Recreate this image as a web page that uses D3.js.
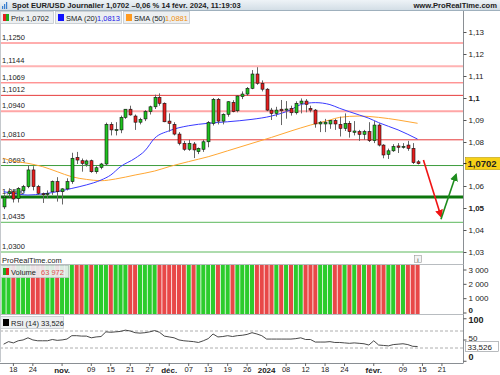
<!DOCTYPE html>
<head>
<meta charset="utf-8">
<style>
body { margin: 0; background: #fff; }
text { font-family: "Liberation Sans", Arial, sans-serif; fill: #222; }
</style>
</head>
<body>
<script src="https://cdn.jsdelivr.net/npm/d3@7/dist/d3.min.js"></script>
<script>

// trading days (no candle on Dec 25 / Jan 1), then empty days to the right edge
var dates = [
  "2023-10-16","2023-10-17","2023-10-18","2023-10-19","2023-10-20","2023-10-23","2023-10-24","2023-10-25","2023-10-26","2023-10-27","2023-10-30","2023-10-31",
  "2023-11-01","2023-11-02","2023-11-03","2023-11-06","2023-11-07","2023-11-08","2023-11-09","2023-11-10","2023-11-13","2023-11-14","2023-11-15","2023-11-16","2023-11-17",
  "2023-11-20","2023-11-21","2023-11-22","2023-11-23","2023-11-24","2023-11-27","2023-11-28","2023-11-29","2023-11-30",
  "2023-12-01","2023-12-04","2023-12-05","2023-12-06","2023-12-07","2023-12-08","2023-12-11","2023-12-12","2023-12-13","2023-12-14","2023-12-15",
  "2023-12-18","2023-12-19","2023-12-20","2023-12-21","2023-12-22","2023-12-26","2023-12-27","2023-12-28","2023-12-29",
  "2024-01-02","2024-01-03","2024-01-04","2024-01-05","2024-01-08","2024-01-09","2024-01-10","2024-01-11","2024-01-12","2024-01-15","2024-01-16",
  "2024-01-17","2024-01-18","2024-01-19","2024-01-22","2024-01-23","2024-01-24","2024-01-25","2024-01-26","2024-01-29","2024-01-30","2024-01-31",
  "2024-02-01","2024-02-02","2024-02-05","2024-02-06","2024-02-07","2024-02-08","2024-02-09","2024-02-12","2024-02-13","2024-02-14",
  "2024-02-15","2024-02-16","2024-02-19","2024-02-20","2024-02-21","2024-02-22","2024-02-23","2024-02-26","2024-02-27"
];

// daily candles (one per trading day above)
var open = [1.0505,1.0566,1.0574,1.0544,1.0579,1.0597,1.0673,1.0597,1.0565,1.0563,1.0574,1.0620,
  1.0574,1.0587,1.0620,1.0730,1.0715,1.0699,1.0715,1.0665,1.0685,1.0700,1.0880,1.0852,1.0855,
  1.0912,1.0949,1.0918,1.0890,1.0905,1.0938,1.0960,1.1003,1.0976,
  1.0895,1.0880,1.0836,1.0794,1.0767,1.0791,1.0756,1.0767,1.0801,1.0885,1.0994,
  1.0895,1.0926,1.0980,1.0942,1.1006,1.1018,1.1044,1.1109,1.1067,
  1.1040,1.0945,1.0930,1.0949,1.0945,1.0953,1.0933,1.0976,1.0986,1.0953,1.0945,
  1.0882,1.0882,1.0882,1.0897,1.0880,1.0862,1.0885,1.0844,1.0847,1.0835,1.0847,
  1.0806,1.0877,1.0786,1.0744,1.0760,1.0782,1.0776,1.0786,1.0771,1.0710];
var high = [1.0562,1.0590,1.0580,1.0595,1.0605,1.0695,1.0690,1.0605,1.0570,1.0580,1.0625,1.0640,
  1.0590,1.0635,1.0751,1.0755,1.0725,1.0720,1.0720,1.0690,1.0705,1.0888,1.0890,1.0890,1.0920,
  1.0950,1.0965,1.0925,1.0910,1.0945,1.0965,1.1015,1.1021,1.0980,
  1.0930,1.0890,1.0845,1.0805,1.0810,1.0800,1.0775,1.0810,1.0895,1.1000,1.1000,
  1.0930,1.0985,1.0990,1.1012,1.1030,1.1050,1.1127,1.1140,1.1080,
  1.1045,1.0955,1.0960,1.0991,1.0986,1.0965,1.0985,1.0998,1.0995,1.0965,1.0950,
  1.0895,1.0905,1.0900,1.0905,1.0915,1.0930,1.0895,1.0895,1.0855,1.0855,1.0890,
  1.0895,1.0885,1.0790,1.0770,1.0790,1.0795,1.0795,1.0805,1.0795,1.0718];
var low = [1.0495,1.0549,1.0525,1.0525,1.0570,1.0590,1.0580,1.0560,1.0523,1.0545,1.0560,1.0529,
  1.0516,1.0580,1.0610,1.0700,1.0665,1.0688,1.0660,1.0656,1.0676,1.0695,1.0830,1.0830,1.0840,
  1.0905,1.0920,1.0855,1.0880,1.0895,1.0925,1.0950,1.0965,1.0890,
  1.0847,1.0830,1.0785,1.0760,1.0760,1.0727,1.0745,1.0755,1.0776,1.0875,1.0880,
  1.0880,1.0915,1.0935,1.0935,1.0995,1.1010,1.1040,1.1060,1.1030,
  1.0940,1.0900,1.0915,1.0877,1.0906,1.0920,1.0925,1.0930,1.0935,1.0935,1.0865,
  1.0845,1.0845,1.0860,1.0855,1.0825,1.0850,1.0820,1.0830,1.0805,1.0810,1.0800,
  1.0795,1.0780,1.0726,1.0723,1.0755,1.0750,1.0770,1.0760,1.0700,1.0698];
var close = [1.0549,1.0574,1.0541,1.0589,1.0597,1.0673,1.0597,1.0567,1.0563,1.0566,1.0620,1.0574,
  1.0587,1.0620,1.0726,1.0718,1.0703,1.0714,1.0665,1.0683,1.0700,1.0880,1.0855,1.0856,1.0912,
  1.0949,1.0923,1.0890,1.0903,1.0938,1.0960,1.1003,1.0976,1.0892,
  1.0885,1.0836,1.0794,1.0767,1.0794,1.0764,1.0771,1.0801,1.0888,1.0994,1.0895,
  1.0926,1.0983,1.0938,1.1009,1.1018,1.1044,1.1109,1.1067,1.1040,
  1.0945,1.0930,1.0945,1.0942,1.0950,1.0933,1.0976,1.0986,1.0971,1.0945,1.0882,
  1.0890,1.0890,1.0897,1.0882,1.0862,1.0885,1.0847,1.0850,1.0835,1.0847,1.0806,
  1.0877,1.0786,1.0741,1.0760,1.0779,1.0776,1.0780,1.0771,1.0706,1.0702];

// volume: every bar runs past the top of its panel (last value from legend)
var volume = [3500,3500,3500,3500,3500,3500,3500,3500,3500,3500,3500,3500,
  3500,3500,3500,3500,3500,3500,3500,3500,3500,3500,3500,3500,3500,
  3500,3500,3500,3500,3500,3500,3500,3500,3500,
  3500,3500,3500,3500,3500,3500,3500,3500,3500,3500,3500,
  3500,3500,3500,3500,3500,3500,3500,3500,3500,
  3500,3500,3500,3500,3500,3500,3500,3500,3500,3500,3500,
  3500,3500,3500,3500,3500,3500,3500,3500,3500,3500,3500,
  3500,3500,3500,3500,3500,3500,3500,3500,3500,63972];

// moving averages (candle index, value)
var sma20Idx = [0,2,5,8,10,12,14,17,20,22,24,27,29,31,34,38,42,46,51,55,59,61,64,67,69,73,75,77,81,85];
var sma20 = [1.0574,1.0567,1.0559,1.0564,1.0570,1.0579,1.0589,1.0605,1.0627,1.0650,1.0688,1.0726,1.0760,1.0817,1.0851,
  1.0874,1.0885,1.0892,1.0903,1.0918,1.0947,1.0970,1.0979,1.0970,1.0953,1.0923,1.0908,1.0888,1.0855,1.0813];
var sma50Idx = [0,1,5,8,11,14,17,20,23,27,31,34,38,42,46,51,55,59,63,67,69,73,77,81,85];
var sma50 = [1.0726,1.0718,1.0703,1.0688,1.0665,1.0642,1.0630,1.0624,1.0632,1.0650,1.0668,1.0688,1.0711,1.0733,1.0760,
  1.0794,1.0821,1.0850,1.0877,1.0900,1.0912,1.0918,1.0912,1.0900,1.0885];

// RSI(14), one value per candle
var rsi = [39,45,42,47,49,54,49,47,47,47,50,48,49,51,59,59,58,58,54,56,57,68,67,68,69,72,70,66,65,66,68,71,67,58,56,54,
  49,47,46,45,43,47,52,63,56,57,59,57,59,60,62,66,63,59,51,51,51,51,51,51,52,54,50,50,44,44,44,45,43,43,42,41,42,41,40,37,
  47,37,36,35,38,39,40,38,34,33.526];

// horizontal levels drawn on the chart
var levels = [1.1250, 1.1144, 1.1069, 1.1012, 1.0940, 1.0810, 1.0693, 1.0550, 1.0435, 1.0300];
var levelStroke = ["#ff5c5c","#ffb3b3","#ff6464","#e63a3a","#ffa6a6","#e63a3a","#3d9c3d","#0c760c","#5cb85c","#5cb85c"];
var levelWidth = [1, 2, 1, 1, 2, 1, 1, 3, 1, 1];

// projection arrows (candle index, price)
var arrowFrom = [[86.2, 1.0718], [89.8, 1.0449]];
var arrowTo = [[89.8, 1.0462], [92.9, 1.0652]];
var arrowColor = ["#f01414", "#1e8c1e"];

// 1,07 is hidden behind the last-price tag
var priceTicks = [1.03,1.04,1.05,1.06,1.08,1.09,1.10,1.11,1.12,1.13];
var volTicks = [0, 1000, 2000, 3000];
var rsiTicks = [0, 50, 100];
var tickDates = ["2023-10-18","2023-10-24","2023-11-01","2023-11-09","2023-11-15","2023-11-21","2023-11-27","2023-12-01","2023-12-07",
  "2023-12-13","2023-12-19","2023-12-26","2024-01-02","2024-01-08","2024-01-12","2024-01-18","2024-01-24","2024-02-01","2024-02-09","2024-02-15","2024-02-21"];
var tickLabels = ["18","24","nov.","09","15","21","27","déc.","07","13","19","26","2024","08","12","18","24","févr.","09","15","21"];
var boldLabels = ["nov.","déc.","2024","févr."];

var loc = d3.formatLocale({decimal: ",", thousands: " ", grouping: [3], currency: ["", ""]});
var f4 = loc.format(".4f"), f3 = loc.format(".3f"), fr = loc.format(".3~r"), fint = loc.format(",d");

var plotRight = 463.5;
var nCandles = close.length;

var svg = d3.select("body").append("svg")
    .attr("width", 500).attr("height", 375)
    .style("display", "block").style("background", "#fff");

var defs = svg.append("defs");
var hg = defs.append("linearGradient").attr("id", "hdr").attr("x1", 0).attr("y1", 0).attr("x2", 0).attr("y2", 1);
hg.append("stop").attr("offset", 0).attr("stop-color", "#eef3f7");
hg.append("stop").attr("offset", 1).attr("stop-color", "#d3dee6");
defs.append("clipPath").attr("id", "clipPrice").append("rect").attr("x", 0).attr("y", 10).attr("width", plotRight).attr("height", 248);
defs.append("clipPath").attr("id", "clipVol").append("rect").attr("x", 0).attr("y", 265).attr("width", plotRight).attr("height", 49);
arrowColor.forEach(function(c, i) {
  defs.append("marker").attr("id", "ah" + i)
      .attr("viewBox", "0 0 10 10").attr("refX", 8).attr("refY", 5)
      .attr("markerWidth", 5).attr("markerHeight", 5).attr("orient", "auto")
    .append("path").attr("d", "M0,0L10,5L0,10Z").attr("fill", c);
});

// scales
var x = d3.scaleBand().domain(dates).range([1.2, 1.2 + dates.length * 4.87]);
var xc = function(i) { return x(dates[i]) + x.bandwidth() / 2; };
var xi = d3.scaleLinear().domain([0, dates.length - 1]).range([xc(0), xc(dates.length - 1)]);
var y = d3.scaleLinear().domain([1.03, 1.13]).range([252, 32]);
var yv = d3.scaleLinear().domain([0, 3000]).range([312.5, 269.5]);
var yr = d3.scaleLinear().domain([0, 100]).range([360.75, 318.25]);

// ---- price panel ----
var price = svg.append("g").attr("clip-path", "url(#clipPrice)");

levels.forEach(function(v, i) {
  price.append("line").attr("x1", 0).attr("x2", plotRight)
      .attr("y1", y(v)).attr("y2", y(v))
      .attr("stroke", levelStroke[i]).attr("stroke-width", levelWidth[i]);
  price.append("text").attr("x", 2).attr("y", y(v) - 3)
      .attr("font-size", 7.5).text(f4(v));
});

var lineOf = function(idx, vals) {
  return d3.line().x(function(d, k) { return xi(idx[k]); })
      .y(function(d) { return y(d); }).curve(d3.curveMonotoneX)(vals);
};
price.append("path").attr("d", lineOf(sma50Idx, sma50)).attr("fill", "none").attr("stroke", "#ffa733").attr("stroke-width", 1);
price.append("path").attr("d", lineOf(sma20Idx, sma20)).attr("fill", "none").attr("stroke", "#3a3aff").attr("stroke-width", 1);

var candles = price.selectAll("g.c").data(d3.range(nCandles)).enter().append("g");
candles.append("line")
    .attr("x1", function(i) { return Math.round(xc(i)) + 0.5; })
    .attr("x2", function(i) { return Math.round(xc(i)) + 0.5; })
    .attr("y1", function(i) { return y(high[i]); })
    .attr("y2", function(i) { return y(low[i]); })
    .attr("stroke", "#666").attr("stroke-width", 1);
candles.append("rect")
    .attr("x", function(i) { return Math.round(xc(i)) - 1; })
    .attr("width", 3)
    .attr("y", function(i) { return y(Math.max(open[i], close[i])); })
    .attr("height", function(i) { return Math.max(1, Math.abs(y(open[i]) - y(close[i]))); })
    .attr("fill", function(i) { return close[i] >= open[i] ? "#1fc21f" : "#e61e1e"; })
    .attr("stroke", "#111").attr("stroke-width", 0.6);

arrowFrom.forEach(function(a, i) {
  price.append("line")
      .attr("x1", xi(a[0])).attr("y1", y(a[1]))
      .attr("x2", xi(arrowTo[i][0])).attr("y2", y(arrowTo[i][1]))
      .attr("stroke", arrowColor[i]).attr("stroke-width", 1.6)
      .attr("marker-end", "url(#ah" + i + ")");
});

// ---- volume panel ----
var vol = svg.append("g").attr("clip-path", "url(#clipVol)");
vol.selectAll("rect").data(d3.range(nCandles)).enter().append("rect")
    .attr("x", function(i) { return x(dates[i]) + 0.4; })
    .attr("width", x.bandwidth() - 0.8)
    .attr("y", function(i) { return yv(volume[i]); })
    .attr("height", function(i) { return yv(0) + 2 - yv(volume[i]); })
    .attr("fill", function(i) { return close[i] >= open[i] ? "#2ccc2c" : "#e84848"; });

// ---- RSI panel ----
[70, 30].forEach(function(v) {
  svg.append("line").attr("x1", 0).attr("x2", plotRight).attr("y1", yr(v)).attr("y2", yr(v))
      .attr("stroke", "#9a9a9a").attr("stroke-width", 0.8).attr("stroke-dasharray", "3,2");
});
svg.append("path")
    .attr("d", d3.line().x(function(d, i) { return xc(i); }).y(function(d) { return yr(d); })(rsi))
    .attr("fill", "none").attr("stroke", "#333").attr("stroke-width", 0.9);

// ---- frames ----
svg.append("line").attr("x1", 0.5).attr("x2", 0.5).attr("y1", 10).attr("y2", 362).attr("stroke", "#c4c8cc");
svg.append("line").attr("x1", plotRight).attr("x2", plotRight).attr("y1", 10).attr("y2", 363).attr("stroke", "#8a8f94");
[264.5, 314.5].forEach(function(v) {
  svg.append("line").attr("x1", 0).attr("x2", plotRight).attr("y1", v).attr("y2", v).attr("stroke", "#b8bcc0");
});

// ---- right axes ----
function styleAxis(g) {
  g.select(".domain").remove();
  g.selectAll(".tick line").attr("stroke", "#555");
  g.selectAll(".tick text").attr("font-size", 8).attr("fill", "#222").attr("x", 5);
}
svg.append("g").attr("transform", "translate(" + plotRight + ",0)")
    .call(d3.axisRight(y).tickValues(priceTicks).tickSize(3).tickFormat(fr))
    .call(styleAxis)
    .selectAll(".tick text").attr("font-weight", function(d) { return (d === 1.10 || d === 1.05) ? "bold" : null; });
svg.append("g").attr("transform", "translate(" + plotRight + ",0)")
    .call(d3.axisRight(yv).tickValues(volTicks).tickSize(3).tickFormat(fint))
    .call(styleAxis)
    .selectAll(".tick text").attr("font-weight", function(d) { return d === 0 ? "bold" : null; })
    .attr("dy", function(d) { return d === 0 ? "0" : "0.32em"; });
svg.append("g").attr("transform", "translate(" + plotRight + ",0)")
    .call(d3.axisRight(yr).tickValues(rsiTicks).tickSize(3).tickFormat(fint))
    .call(styleAxis)
    .selectAll(".tick text").attr("font-weight", function(d) { return d === 50 ? null : "bold"; })
    .attr("font-size", function(d) { return d === 50 ? 8 : 9; })
    .attr("dy", function(d) { return d === 0 ? "-0.1em" : (d === 100 ? "0.5em" : "0.1em"); });

// current price marker
var lastY = y(close[nCandles - 1]);
svg.append("rect").attr("x", plotRight + 2).attr("y", lastY - 6).attr("width", 35).attr("height", 12)
    .attr("fill", "#f7d117").attr("stroke", "#b99a00").attr("stroke-width", 0.6);
svg.append("line").attr("x1", plotRight).attr("x2", plotRight + 3).attr("y1", lastY).attr("y2", lastY).attr("stroke", "#222");
svg.append("text").attr("x", plotRight + 4).attr("y", lastY + 3.5).attr("font-size", 9.5).attr("font-weight", "bold")
    .text(f4(close[nCandles - 1]));

// current RSI marker
var rsiY = yr(rsi[nCandles - 1]);
svg.append("rect").attr("x", plotRight + 2).attr("y", rsiY - 5).attr("width", 33).attr("height", 10)
    .attr("fill", "#fff").attr("stroke", "#8a8f94").attr("stroke-width", 0.6);
svg.append("text").attr("x", plotRight + 4).attr("y", rsiY + 3).attr("font-size", 8)
    .text(f3(rsi[nCandles - 1]));

// ---- bottom date axis ----
var xAxis = svg.append("g").attr("transform", "translate(0,363)")
    .call(d3.axisBottom(x).tickValues(tickDates).tickSize(3).tickFormat(function(d, i) { return tickLabels[i]; }));
xAxis.select(".domain").attr("d", "M0,0.5H" + plotRight).attr("stroke", "#8a8f94");
xAxis.selectAll(".tick line").attr("stroke", "#666");
xAxis.selectAll(".tick text").attr("font-size", 7.5).attr("fill", "#222").attr("y", 4)
    .attr("font-weight", function(d, i) { return boldLabels.indexOf(tickLabels[i]) >= 0 ? "bold" : null; })
    .attr("font-size", function(d, i) { return boldLabels.indexOf(tickLabels[i]) >= 0 ? 8 : 7.5; });

// ---- header ----
svg.append("rect").attr("x", 0).attr("y", 0).attr("width", 500).attr("height", 10).attr("fill", "url(#hdr)");
svg.append("line").attr("x1", 0).attr("x2", 500).attr("y1", 10.5).attr("y2", 10.5).attr("stroke", "#9fb0bd");
[0, 1, 2].forEach(function(k) {
  svg.append("rect").attr("x", 2 + k * 2).attr("y", 6 - k * 2).attr("width", 1.2).attr("height", 3 + k * 2).attr("fill", "#3a7fd0");
});
svg.append("text").attr("x", 12).attr("y", 7.8).attr("font-size", 7.6).attr("font-weight", "bold")
    .text("Spot EUR/USD Journalier 1,0702 \u20130,06 % 14 févr. 2024, 11:19:03");
svg.append("text").attr("x", 497).attr("y", 7.8).attr("font-size", 7.6).attr("font-weight", "bold")
    .attr("text-anchor", "end").text("www.ProRealTime.com");

// legend boxes
function legendBox(x0, w, y0) {
  svg.append("rect").attr("x", x0 + 0.5).attr("y", y0 + 0.5).attr("width", w).attr("height", 12)
      .attr("fill", "#eceff1").attr("stroke", "#c3c8cc").attr("stroke-width", 0.8);
}
legendBox(0, 53, 11);
legendBox(55, 66, 11);
legendBox(123, 66, 11);
svg.append("rect").attr("x", 3).attr("y", 14).attr("width", 3).attr("height", 7).attr("fill", "#e61e1e");
svg.append("rect").attr("x", 6).attr("y", 14).attr("width", 3).attr("height", 7).attr("fill", "#1fa81f");
svg.append("text").attr("x", 11).attr("y", 20.5).attr("font-size", 7.5).text("Prix 1,0702");
svg.append("rect").attr("x", 58).attr("y", 14).attr("width", 6).attr("height", 7).attr("fill", "#1010ff");
svg.append("text").attr("x", 66).attr("y", 20.5).attr("font-size", 7.5).text("SMA (20)");
svg.append("text").attr("x", 97).attr("y", 20.5).attr("font-size", 7.5).style("fill", "#2020e8").text(f4(sma20[sma20.length - 1]));
svg.append("rect").attr("x", 126).attr("y", 14).attr("width", 6).attr("height", 7).attr("fill", "#ff9a1f");
svg.append("text").attr("x", 134).attr("y", 20.5).attr("font-size", 7.5).text("SMA (50)");
svg.append("text").attr("x", 165).attr("y", 20.5).attr("font-size", 7.5).style("fill", "#f09010").text("1,0881");

// volume header
svg.append("text").attr("x", 2).attr("y", 263).attr("font-size", 7.5).attr("fill", "#333").text("ProRealTime.com");
svg.append("rect").attr("x", 414.5).attr("y", 255.5).attr("width", 7).attr("height", 7).attr("fill", "#f4f4f4").attr("stroke", "#999").attr("stroke-width", 0.6);
svg.append("text").attr("x", 418).attr("y", 261.5).attr("font-size", 6).attr("text-anchor", "middle").text("i");
svg.append("rect").attr("x", 0.5).attr("y", 265.5).attr("width", 68).attr("height", 12)
    .attr("fill", "#eceff1").attr("fill-opacity", 0.92).attr("stroke", "#c3c8cc").attr("stroke-width", 0.8);
svg.append("rect").attr("x", 3).attr("y", 268).attr("width", 3).attr("height", 7).attr("fill", "#1fa81f");
svg.append("rect").attr("x", 6).attr("y", 268).attr("width", 3).attr("height", 7).attr("fill", "#e61e1e");
svg.append("text").attr("x", 11).attr("y", 274.5).attr("font-size", 7.5).text("Volume");
svg.append("text").attr("x", 41).attr("y", 274.5).attr("font-size", 7.5).style("fill", "#e05050").text(fint(volume[nCandles - 1]));

// RSI header
svg.append("rect").attr("x", 0.5).attr("y", 316.5).attr("width", 63).attr("height", 12)
    .attr("fill", "#eceff1").attr("stroke", "#c3c8cc").attr("stroke-width", 0.8);
svg.append("rect").attr("x", 3).attr("y", 319).attr("width", 6).attr("height", 7).attr("fill", "#000");
svg.append("text").attr("x", 11).attr("y", 325.5).attr("font-size", 7.5).text("RSI (14) " + f3(rsi[nCandles - 1]));

</script>
</body>
